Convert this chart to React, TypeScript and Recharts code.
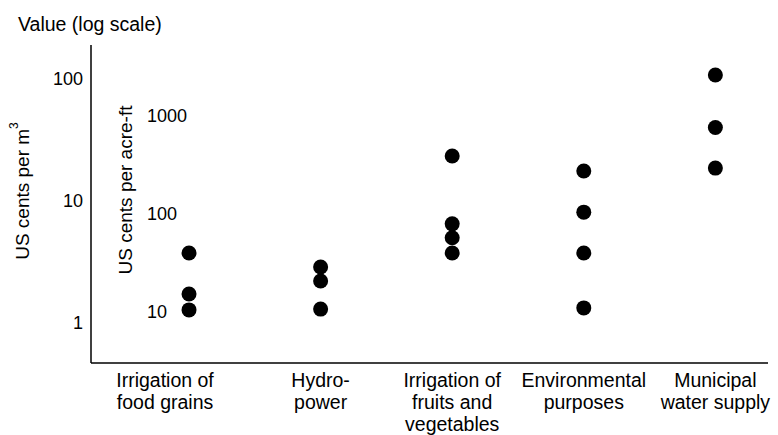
import React from "react";
import { ScatterChart, Scatter, XAxis, YAxis, Label } from "recharts";

// category labels, one entry per column (split into lines as printed)
const categories = [
  ["Irrigation of", "food grains"],
  ["Hydro-", "power"],
  ["Irrigation of", "fruits and", "vegetables"],
  ["Environmental", "purposes"],
  ["Municipal", "water supply"],
];

// values in US cents per m3
const foodGrains = [3.75, 1.73, 1.28];
const hydropower = [2.88, 2.21, 1.3];
const fruitsVeg = [23.4, 6.5, 5.0, 3.75];
const environmental = [17.6, 8.1, 3.75, 1.33];
const municipal = [108, 40, 18.6];

const m3Ticks = [1, 10, 100];
const acreFtTicks = [10, 100, 1000];

const series = [foodGrains, hydropower, fruitsVeg, environmental, municipal];
const points = series.flatMap((vals, i) => vals.map((v) => ({ x: i + 1, y: v })));

const FONT = '"Liberation Sans", Arial, Helvetica, sans-serif';

const Dot = (props: any) => <circle cx={props.cx} cy={props.cy} r={7.5} fill="#000" />;

const CategoryTick = (props: any) => {
  const { x, y, payload } = props;
  const lines = categories[payload.value - 1] || [];
  // the first label sits a little left of its dots in the original
  const shift = payload.value === 1 ? -24 : 0;
  return (
    <g>
      {lines.map((line, i) => (
        <text
          key={i}
          x={x + shift}
          y={y + 9 + i * 22}
          textAnchor="middle"
          dominantBaseline="central"
          fontSize={19.5}
          fill="#000"
        >
          {line}
        </text>
      ))}
    </g>
  );
};

const OuterLabels = (props: any) => {
  const vb = props.viewBox || { x: 0, y: 45, width: 91, height: 318 };
  const cy = vb.y + vb.height / 2 - 13;
  return (
    <g>
      <text x={18} y={24} dominantBaseline="central" fontSize={19.5} fill="#000">
        Value (log scale)
      </text>
      <text
        x={22}
        y={cy}
        transform={`rotate(-90, 22, ${cy})`}
        textAnchor="middle"
        dominantBaseline="central"
        fontSize={19}
        fill="#000"
      >
        US cents per m
        <tspan fontSize={12} dy={-8}>
          3
        </tspan>
      </text>
    </g>
  );
};

const InnerLabel = (props: any) => {
  const vb = props.viewBox || { x: 91, y: 45, width: 60, height: 318 };
  const cx = vb.x + 34;
  const cy = vb.y + vb.height / 2 - 14;
  return (
    <text
      x={cx}
      y={cy}
      transform={`rotate(-90, ${cx}, ${cy})`}
      textAnchor="middle"
      dominantBaseline="central"
      fontSize={19}
      fill="#000"
    >
      US cents per acre-ft
    </text>
  );
};

export default function App() {
  return (
    <div style={{ position: "absolute", left: 0, top: 0, fontFamily: FONT, background: "#fff" }}>
      <ScatterChart width={778} height={435} margin={{ top: 45, right: 10, bottom: 0, left: 0 }}>
        <XAxis
          type="number"
          dataKey="x"
          domain={[0.255, 5.4]}
          allowDataOverflow
          ticks={[1, 2, 3, 4, 5]}
          interval={0}
          height={72}
          tickLine={false}
          axisLine={{ stroke: "#000", strokeWidth: 1.5 }}
          tick={<CategoryTick />}
        />
        <YAxis
          yAxisId="m3"
          type="number"
          dataKey="y"
          scale="log"
          domain={[0.47, 190]}
          allowDataOverflow
          ticks={m3Ticks}
          interval={0}
          width={91}
          tickLine={false}
          axisLine={{ stroke: "#000", strokeWidth: 1.5 }}
          tick={{ fill: "#000", fontSize: 18 }}
        >
          <Label content={OuterLabels} />
        </YAxis>
        <YAxis
          yAxisId="af"
          type="number"
          scale="log"
          orientation="left"
          mirror
          domain={[2.97, 5212]}
          allowDataOverflow
          ticks={acreFtTicks}
          interval={0}
          width={60}
          tickLine={false}
          axisLine={false}
          tickMargin={50}
          tick={{ fill: "#000", fontSize: 18 }}
        >
          <Label content={InnerLabel} />
        </YAxis>
        <Scatter yAxisId="m3" data={points} shape={Dot} isAnimationActive={false} />
      </ScatterChart>
    </div>
  );
}
